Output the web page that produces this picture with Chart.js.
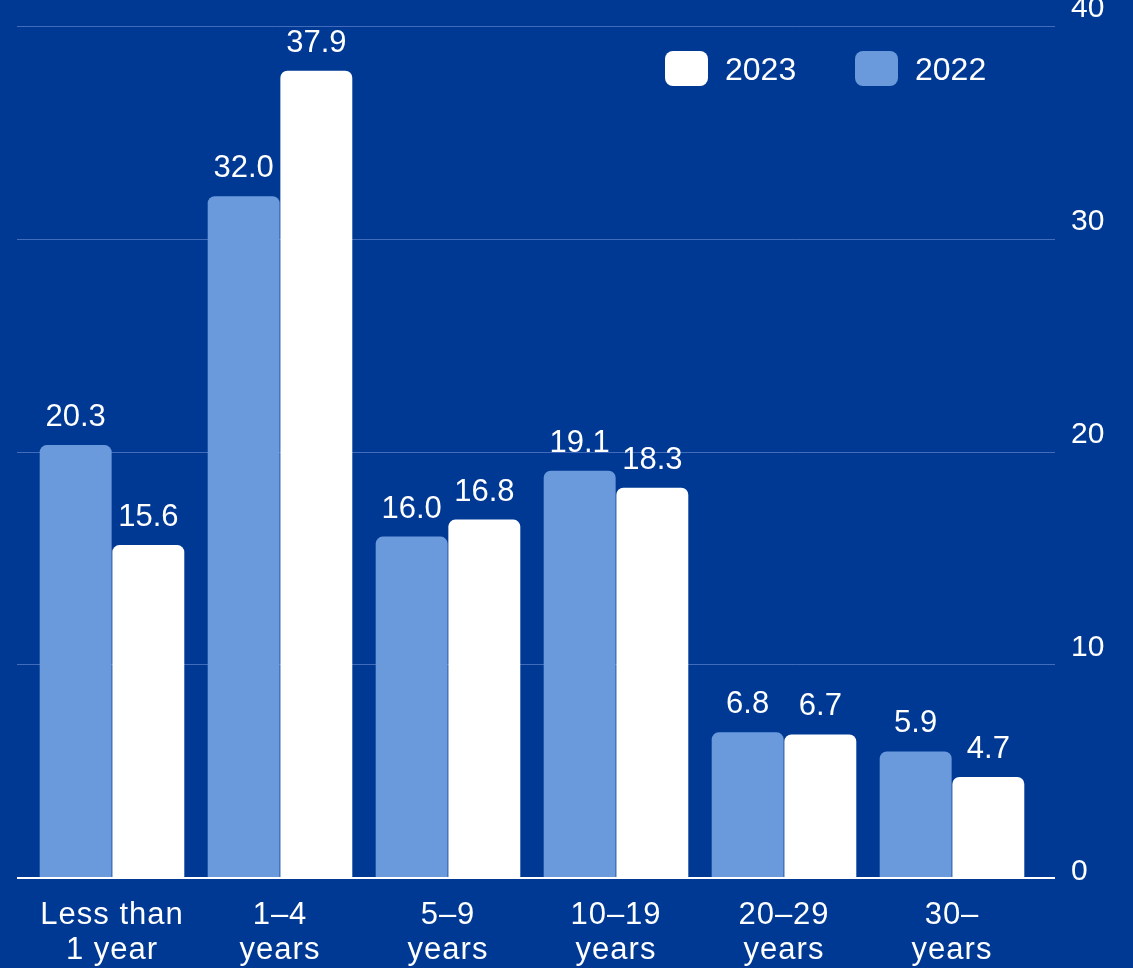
<!DOCTYPE html>
<html>
<head>
<meta charset="utf-8">
<script src="https://cdn.jsdelivr.net/npm/chart.js@4/dist/chart.umd.min.js"></script>
<style>
  html, body { margin: 0; padding: 0; background: #003994; }
  #wrap { width: 1133px; height: 968px; }
</style>
</head>
<body>
<div id="wrap"><canvas id="bar-chart"></canvas></div>
<script>
const categories = [["Less than", "1 year"], ["1–4", "years"], ["5–9", "years"], ["10–19", "years"], ["20–29", "years"], ["30–", "years"]];
const values2022 = [20.3, 32.0, 16.0, 19.1, 6.8, 5.9];
const values2023 = [15.6, 37.9, 16.8, 18.3, 6.7, 4.7];
const yTicks = [0, 10, 20, 30, 40];

const FONT = "'Liberation Sans', Arial, sans-serif";

// grid lines and base line run a bit wider than the bars
const gridPlugin = {
  id: 'grid',
  beforeDraw(chart) {
    chart.ctx.letterSpacing = '1px';
  },
  beforeDatasetsDraw(chart) {
    const ctx = chart.ctx, y = chart.scales.y, a = chart.chartArea;
    ctx.letterSpacing = '0px';
    ctx.save();
    ctx.strokeStyle = 'rgba(120,150,215,0.55)';
    ctx.lineWidth = 1;
    yTicks.forEach(t => {
      if (t === 0) return;
      const py = Math.round(y.getPixelForValue(t)) + 0.5;
      ctx.beginPath();
      ctx.moveTo(a.left - 11, py);
      ctx.lineTo(a.right + 19, py);
      ctx.stroke();
    });
    ctx.restore();
  },
  afterDatasetsDraw(chart) {
    const ctx = chart.ctx, y = chart.scales.y, a = chart.chartArea;
    ctx.save();
    ctx.strokeStyle = '#ffffff';
    ctx.lineWidth = 2;
    const py = y.getPixelForValue(0) + 1;
    ctx.beginPath();
    ctx.moveTo(a.left - 11, py);
    ctx.lineTo(a.right + 19, py);
    ctx.stroke();

    // y tick labels sit above their grid lines
    ctx.fillStyle = '#ffffff';
    ctx.font = '30px ' + FONT;
    ctx.textAlign = 'left';
    ctx.textBaseline = 'middle';
    yTicks.forEach(t => {
      const off = t === 0 ? 5 : 17;
      ctx.fillText(String(t), a.right + 35, y.getPixelForValue(t) - off);
    });

    // value labels
    ctx.font = '31px ' + FONT;
    ctx.textAlign = 'center';
    ctx.textBaseline = 'alphabetic';
    chart.data.datasets.forEach((ds, i) => {
      chart.getDatasetMeta(i).data.forEach((bar, j) => {
        ctx.fillText(ds.data[j].toFixed(1), bar.x, bar.y - 19);
      });
    });

    // legend (2023 first)
    const items = [chart.data.datasets[1], chart.data.datasets[0]];
    let x = a.right - 371;
    const top = 51;
    ctx.font = '32px ' + FONT;
    items.forEach(ds => {
      ctx.fillStyle = ds.backgroundColor;
      ctx.beginPath();
      ctx.roundRect(x, top, 43, 35, 8);
      ctx.fill();
      ctx.fillStyle = '#ffffff';
      ctx.textAlign = 'left';
      ctx.textBaseline = 'alphabetic';
      ctx.fillText(ds.label, x + 60, top + 29);
      x += 190;
    });
    ctx.restore();
  }
};

new Chart(document.getElementById("bar-chart"), {
  type: 'bar',
  data: {
    labels: categories,
    datasets: [
      {
        label: "2022",
        data: values2022,
        backgroundColor: "#6a9adb",
        borderRadius: 7,
        borderSkipped: 'start'
      },
      {
        label: "2023",
        data: values2023,
        backgroundColor: "#ffffff",
        borderRadius: 7,
        borderSkipped: 'start'
      }
    ]
  },
  options: {
    responsive: true,
    maintainAspectRatio: false,
    animation: false,
    datasets: {
      bar: { categoryPercentage: 0.865, barPercentage: 0.99 }
    },
    layout: { padding: { left: 28, top: 26, right: 0, bottom: 0 } },
    plugins: {
      legend: { display: false },
      tooltip: { enabled: false }
    },
    scales: {
      x: {
        grid: { display: false, drawTicks: false },
        border: { display: false },
        ticks: {
          color: '#ffffff',
          padding: 21,
          maxRotation: 0,
          autoSkip: false,
          font: { family: FONT, size: 31, lineHeight: 1.13 }
        },
        afterFit(scale) { scale.height = 91; }
      },
      y: {
        position: 'right',
        min: 0,
        max: 40,
        grid: { display: false },
        border: { display: false },
        afterBuildTicks(scale) { scale.ticks = yTicks.map(v => ({ value: v })); },
        ticks: { display: false },
        afterFit(scale) {
          scale.width = 97;
          scale.paddingTop = 0;
          scale.paddingBottom = 0;
        }
      }
    }
  },
  plugins: [gridPlugin]
});
</script>
</body>
</html>
